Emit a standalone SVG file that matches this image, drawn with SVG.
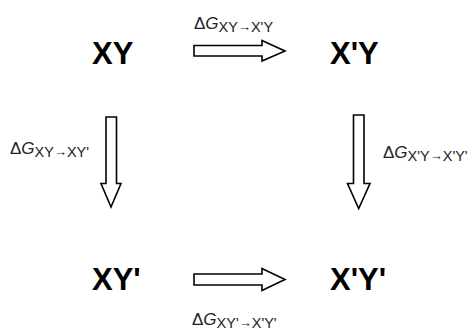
<svg xmlns="http://www.w3.org/2000/svg" width="475" height="332" viewBox="0 0 475 332">
<style>
.node{font-family:"Liberation Sans",Arial,sans-serif;font-weight:bold;font-size:31px;fill:#000}
.arr{fill:#fff;stroke:#000;stroke-width:1.6;stroke-linejoin:miter}
.lbl{font-family:"Liberation Sans",Arial,sans-serif;font-size:17px;fill:#222}
.sub{font-size:14.5px}
.ar{font-size:13px}
</style>
<rect width="475" height="332" fill="#fff"/>
<g id="XY"><text class="node" x="92" y="64">XY</text></g>
<g id="X1Y"><text class="node" x="330" y="64">X'Y</text></g>
<g id="XY1"><text class="node" x="92" y="290">XY'</text></g>
<g id="X1Y1"><text class="node" x="330" y="290">X'Y'</text></g>
<g id="connectors">
<polygon class="arr" points="194,45.5 262,45.5 262,40.5 285,51 262,61 262,56 194,56"/>
<polygon class="arr" points="194,274 262,274 262,268.5 285,279.5 262,290.5 262,285 194,285"/>
<polygon class="arr" points="106,117 116.5,117 116.5,183.5 121,183.5 111,207 101,183.5 106,183.5"/>
<polygon class="arr" points="353.5,115 364,115 364,183.5 370,183.5 358.7,208.5 347.5,183.5 353.5,183.5"/>
<text class="lbl" x="194" y="29">Δ<tspan font-style="italic">G</tspan><tspan class="sub" dy="3">XY</tspan><tspan class="ar" dy="-1">→</tspan><tspan class="sub" dy="1">X'Y</tspan></text>
<text class="lbl" x="10" y="154">Δ<tspan font-style="italic">G</tspan><tspan class="sub" dy="3">XY</tspan><tspan class="ar" dy="-1">→</tspan><tspan class="sub" dy="1">XY'</tspan></text>
<text class="lbl" x="383" y="158">Δ<tspan font-style="italic">G</tspan><tspan class="sub" dy="3">X'Y</tspan><tspan class="ar" dy="-1">→</tspan><tspan class="sub" dy="1">X'Y'</tspan></text>
<text class="lbl" x="192" y="325">Δ<tspan font-style="italic">G</tspan><tspan class="sub" dy="3">XY'</tspan><tspan class="ar" dy="-1">→</tspan><tspan class="sub" dy="1">X'Y'</tspan></text>
</g>
</svg>
